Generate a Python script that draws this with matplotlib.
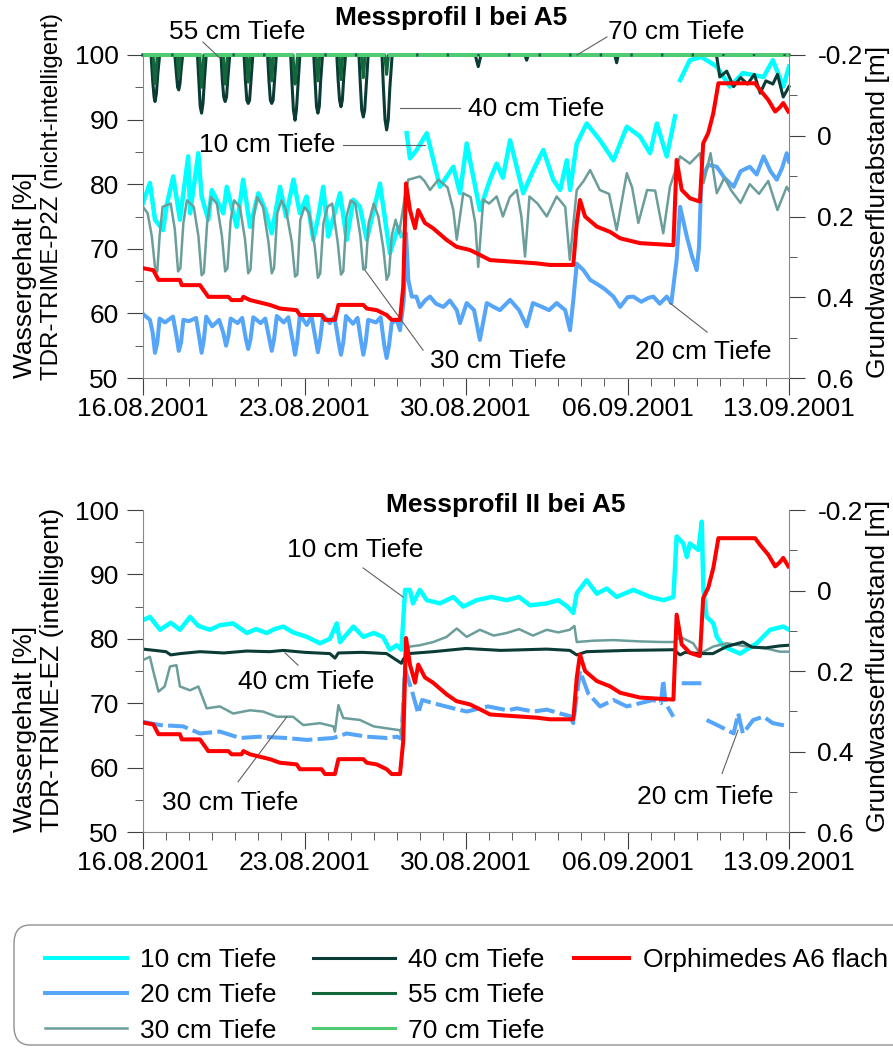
import numpy as np
import matplotlib
matplotlib.use('Agg')
import matplotlib.pyplot as plt
from matplotlib.lines import Line2D
from matplotlib.patches import FancyBboxPatch

plt.rcParams['font.family'] = ['Liberation Sans', 'DejaVu Sans']

nan = np.nan

# x axis: days since 16.08.2001
date_ticks = [0, 7, 14, 21, 28]
date_labels = ['16.08.2001', '23.08.2001', '30.08.2001', '06.09.2001', '13.09.2001']

# ---- Messprofil I (TDR-TRIME-P2Z), water content [%] as (day, value)
top_10cm = [(0, 77.1), (0.3, 80.2), (0.52, 74.5), (0.87, 72.9), (1.03, 76.8), (1.31, 81.2), (1.6, 74.5),
            (1.96, 84.3), (2.04, 75.5), (2.4, 84.8), (2.54, 78.1), (2.83, 74.5), (2.98, 79.1), (3.48, 75.5),
            (3.63, 79.6), (4.06, 73.4), (4.34, 80.7), (4.64, 73.4), (5.0, 78.6), (5.3, 76.0), (5.58, 72.4),
            (5.94, 79.6), (6.2, 75.0), (6.52, 80.7), (6.8, 75.5), (7.09, 78.1), (7.38, 71.4), (7.6, 75.0),
            (7.81, 79.6), (8.03, 71.9), (8.54, 78.6), (8.83, 71.4), (9.12, 77.6), (9.4, 76.5), (9.7, 71.4),
            (10.0, 76.0), (10.27, 80.1), (10.7, 69.3), (11.07, 73.4), (11.2, 72.0), (11.3, nan),
            (11.43, 87.9), (11.57, 84.0), (11.86, 85.3), (12.3, 87.9), (12.87, 79.6), (13.45, 82.7),
            (13.74, 78.6), (14.03, 86.3), (14.6, 76.0), (15.04, 80.7), (15.33, 83.2), (15.6, 81.0),
            (15.91, 86.8), (16.48, 78.6), (16.92, 82.2), (17.35, 85.3), (17.78, 80.7), (18.08, 79.1),
            (18.37, 83.7), (18.51, 79.1), (18.8, 86.3), (19.23, 89.4), (19.81, 86.8), (20.39, 83.7),
            (20.97, 88.9), (21.54, 87.4), (21.98, 84.8), (22.27, 89.4), (22.7, 84.3), (23.06, 90.5),
            (23.15, nan), (23.28, 96.1), (23.7, 99.2), (24.2, 99.7), (24.87, 98.2), (25.44, 95.1),
            (26.0, 97.2), (26.9, 96.6), (27.3, 99.2), (27.75, 95.1), (28.0, 98.2)]

top_20cm = [(0, 59.9), (0.3, 59.0), (0.42, 57.0), (0.52, 53.9), (0.62, 55.5), (0.72, 59.2), (0.95, 58.6),
            (1.3, 59.5), (1.45, 56.5), (1.55, 54.2), (1.65, 55.5), (1.75, 59.0), (2.0, 58.8),
            (2.3, 59.3), (2.45, 56.0), (2.54, 53.9), (2.64, 56.0), (2.74, 59.5), (3.0, 58.0),
            (3.3, 59.0), (3.48, 57.0), (3.6, 55.0), (3.7, 56.5), (3.8, 59.2), (4.1, 58.5),
            (4.3, 59.3), (4.46, 56.0), (4.56, 54.5), (4.66, 56.0), (4.78, 59.4), (5.1, 58.5),
            (5.3, 59.2), (5.48, 56.0), (5.58, 54.2), (5.68, 56.0), (5.8, 59.6), (6.1, 58.6),
            (6.3, 59.4), (6.5, 55.5), (6.59, 53.6), (6.68, 55.5), (6.8, 59.8), (7.1, 58.2),
            (7.3, 59.6), (7.48, 56.0), (7.58, 54.0), (7.68, 56.0), (7.8, 59.7), (8.1, 58.5),
            (8.3, 59.5), (8.48, 55.5), (8.58, 53.6), (8.68, 55.5), (8.8, 59.6), (9.1, 58.4),
            (9.3, 59.3), (9.46, 55.5), (9.55, 53.6), (9.65, 55.5), (9.76, 59.0), (10.1, 58.6),
            (10.3, 59.4), (10.46, 55.0), (10.56, 53.1), (10.66, 55.0), (10.78, 58.5), (11.0, 59.0),
            (11.14, 57.4), (11.3, 62.0), (11.4, 72.4), (11.5, 65.2), (11.65, 62.6), (11.85, 62.6),
            (12.0, 61.0), (12.25, 62.1), (12.44, 62.6), (12.7, 61.5), (13.02, 61.0), (13.3, 62.0),
            (13.6, 60.5), (13.74, 58.5), (14.03, 61.6), (14.35, 60.5), (14.6, 55.9), (14.9, 61.6),
            (15.2, 61.0), (15.47, 60.5), (15.91, 62.1), (16.3, 60.5), (16.63, 58.0), (16.9, 61.6),
            (17.3, 61.0), (17.6, 60.5), (17.93, 61.6), (18.3, 60.5), (18.51, 57.4), (18.65, 62.0),
            (18.8, 67.7), (19.09, 66.7), (19.38, 65.2), (19.7, 64.5), (20.0, 63.8), (20.39, 62.6),
            (20.68, 61.0), (21.0, 62.5), (21.25, 62.6), (21.6, 61.8), (21.9, 62.4), (22.12, 62.6),
            (22.4, 61.5), (22.7, 62.6), (22.9, 61.6), (23.13, 68.3), (23.28, 76.5), (23.57, 71.9),
            (23.8, 68.8), (24.0, 66.7), (24.1, 70.3), (24.2, 80.7), (24.5, 83.0), (24.87, 82.7),
            (25.2, 81.0), (25.6, 79.6), (25.9, 82.0), (26.3, 82.7), (26.6, 81.5), (26.9, 84.3),
            (27.2, 82.0), (27.47, 80.7), (27.7, 82.5), (27.9, 84.8), (28.0, 83.5)]

top_30cm = [(0, 76.5), (0.2, 75.5), (0.38, 72.0), (0.52, 67.2), (0.62, 66.5), (0.72, 72.0), (0.85, 76.5),
            (1.2, 77.0), (1.38, 73.0), (1.52, 66.5), (1.62, 67.0), (1.75, 74.0), (1.9, 77.5),
            (2.2, 76.5), (2.4, 72.0), (2.54, 65.9), (2.64, 66.3), (2.78, 74.0), (2.95, 78.0),
            (3.2, 77.0), (3.42, 72.0), (3.56, 66.5), (3.66, 67.0), (3.8, 74.5), (3.95, 77.5),
            (4.2, 76.5), (4.42, 71.5), (4.56, 66.2), (4.66, 66.8), (4.8, 75.0), (4.95, 78.0),
            (5.2, 76.5), (5.44, 71.0), (5.58, 66.2), (5.68, 67.0), (5.82, 75.5), (6.0, 77.5),
            (6.2, 76.0), (6.45, 71.0), (6.59, 65.7), (6.69, 66.0), (6.82, 74.5), (7.0, 76.5),
            (7.2, 75.5), (7.44, 70.5), (7.58, 65.5), (7.68, 66.2), (7.82, 74.0), (8.0, 76.5),
            (8.2, 77.0), (8.44, 71.0), (8.58, 66.0), (8.68, 66.5), (8.82, 75.0), (9.0, 77.5),
            (9.2, 77.0), (9.42, 72.0), (9.55, 66.8), (9.65, 67.0), (9.78, 74.0), (10.0, 77.0),
            (10.2, 75.0), (10.42, 70.0), (10.56, 65.2), (10.66, 66.0), (10.78, 72.0), (10.95, 74.5),
            (11.1, 72.4), (11.35, 78.0), (11.5, 80.7), (11.8, 81.0), (12.0, 81.2), (12.2, 80.5),
            (12.44, 79.1), (12.8, 80.7), (13.2, 79.5), (13.45, 76.0), (13.6, 71.4), (13.88, 78.6),
            (14.2, 78.0), (14.4, 74.0), (14.53, 67.2), (14.75, 77.6), (15.0, 77.0), (15.33, 78.1),
            (15.6, 75.0), (15.9, 78.0), (16.2, 79.1), (16.4, 75.0), (16.56, 68.8), (16.75, 78.1),
            (17.1, 77.0), (17.5, 75.0), (17.93, 78.1), (18.3, 76.5), (18.5, 68.3), (18.8, 79.1),
            (19.1, 80.5), (19.38, 82.2), (19.8, 79.1), (20.2, 78.5), (20.53, 72.9), (20.97, 81.7),
            (21.2, 79.5), (21.47, 74.0), (21.85, 79.1), (22.2, 79.0), (22.55, 72.4), (22.84, 79.6),
            (23.28, 84.3), (23.7, 83.2), (24.14, 84.8), (24.3, 80.2), (24.6, 84.8), (24.87, 78.6),
            (25.2, 81.0), (25.5, 79.0), (25.9, 77.1), (26.3, 80.0), (26.7, 78.5), (27.1, 80.5),
            (27.5, 76.0), (27.9, 79.6), (28.0, 79.0)]

top_40cm = [(0, 100), (0.35, 100), (0.42, 96), (0.48, 93.5), (0.52, 92.8), (0.58, 94), (0.64, 97), (0.72, 100),
            (1.38, 100), (1.45, 97), (1.5, 95), (1.55, 94.6), (1.6, 95.5), (1.66, 98), (1.72, 100),
            (2.36, 100), (2.42, 96), (2.48, 92), (2.54, 91.0), (2.6, 92.5), (2.66, 96), (2.74, 100),
            (3.38, 100), (3.44, 96), (3.5, 93.5), (3.56, 92.8), (3.62, 93.5), (3.68, 96.5), (3.76, 100),
            (4.38, 100), (4.44, 96), (4.5, 93), (4.56, 92.5), (4.62, 93), (4.68, 96), (4.76, 100),
            (5.4, 100), (5.46, 96), (5.52, 93), (5.58, 92.5), (5.64, 93), (5.7, 96), (5.78, 100),
            (6.4, 100), (6.46, 95.5), (6.52, 91.5), (6.59, 89.9), (6.65, 91.5), (6.72, 95.5), (6.8, 100),
            (7.4, 100), (7.46, 96), (7.52, 92), (7.58, 91.0), (7.64, 92), (7.7, 96), (7.78, 100),
            (8.4, 100), (8.46, 96), (8.52, 93), (8.58, 92.0), (8.64, 93), (8.7, 96.5), (8.78, 100),
            (9.36, 100), (9.42, 95.5), (9.48, 91.5), (9.55, 90.4), (9.61, 91.5), (9.68, 95.5), (9.76, 100),
            (10.36, 100), (10.42, 95), (10.49, 90), (10.56, 88.4), (10.63, 90), (10.7, 95), (10.8, 100),
            (14.4, 100), (14.53, 98.2), (14.65, 100), (16.55, 100), (16.63, 99.2), (16.7, 100),
            (20.45, 100), (20.53, 98.8), (20.6, 100), (24.8, 100), (24.87, 99.7), (25.0, 96.6),
            (25.3, 97.5), (25.6, 95.1), (25.9, 96.5), (26.2, 95.5), (26.5, 97.0), (26.75, 94.1),
            (27.0, 96.0), (27.3, 95.5), (27.5, 97.0), (27.75, 93.5), (28.0, 95.1)]

top_55cm = [(0, 100), (0.44, 100), (0.48, 97), (0.52, 95.6), (0.56, 97), (0.62, 100),
            (1.48, 100), (1.55, 96.5), (1.62, 100),
            (2.46, 100), (2.5, 97), (2.54, 95.0), (2.58, 97), (2.64, 100),
            (3.48, 100), (3.52, 97), (3.56, 95.5), (3.6, 97), (3.66, 100),
            (4.48, 100), (4.56, 95.8), (4.64, 100),
            (5.5, 100), (5.58, 96.0), (5.66, 100),
            (6.5, 100), (6.55, 97), (6.59, 95.5), (6.63, 97), (6.7, 100),
            (7.5, 100), (7.58, 96.0), (7.66, 100),
            (8.5, 100), (8.58, 96.2), (8.66, 100),
            (9.47, 100), (9.55, 96.5), (9.63, 100),
            (10.48, 100), (10.56, 97.0), (10.64, 100), (28, 100)]

top_70cm = [(0, 100), (7, 100), (14, 100), (21, 100), (28, 100)]

# ---- Messprofil II (TDR-TRIME-EZ)
bot_10cm = [(0, 82.9), (0.3, 83.4), (0.74, 81.4), (1.2, 82.5), (1.6, 81.4), (2.04, 83.4), (2.4, 82.0),
            (2.9, 81.4), (3.33, 82.1), (3.9, 82.4), (4.5, 80.9), (4.9, 81.5), (5.36, 80.9), (5.7, 81.5),
            (6.08, 81.9), (6.5, 81.0), (7.1, 80.3), (7.67, 79.3), (8.1, 80.0), (8.4, 82.4), (8.54, 79.5),
            (9.12, 81.9), (9.55, 80.3), (10.0, 80.9), (10.4, 80.3), (10.7, 78.3), (11.0, 79.0), (11.2, 78.3),
            (11.36, 87.6), (11.57, 87.6), (11.7, 85.5), (12.0, 87.6), (12.3, 86.0), (12.87, 85.5),
            (13.45, 86.5), (13.88, 85.0), (14.46, 86.0), (15.1, 86.5), (15.76, 86.0), (16.3, 86.5),
            (16.77, 85.2), (17.5, 85.5), (18.0, 86.0), (18.4, 85.0), (18.65, 84.0), (18.8, 87.1),
            (19.23, 89.1), (19.67, 87.0), (20.1, 87.8), (20.53, 86.5), (21.25, 87.6), (21.98, 86.5),
            (22.55, 86.0), (22.99, 86.5), (23.13, 95.9), (23.42, 94.8), (23.57, 92.7), (23.7, 94.8),
            (24.07, 93.8), (24.22, 98.2), (24.29, 87.6), (24.43, 83.4), (24.72, 82.4), (24.87, 80.3),
            (25.16, 78.8), (25.88, 77.7), (26.6, 79.3), (27.18, 81.4), (27.75, 81.9), (28.0, 81.4)]

bot_20cm = [(0, 67.1), (0.74, 66.6), (1.74, 66.4), (2.47, 65.3), (3.33, 65.6), (4.2, 64.6), (5.07, 64.8),
            (6.2, 64.6), (7.1, 64.3), (8.25, 64.6), (8.83, 65.3), (9.7, 64.8), (10.56, 64.6), (11.0, 64.8),
            (11.2, 64.5), (11.36, 75.2), (11.65, 72.0), (11.93, 68.4), (12.1, 70.5), (12.58, 70.0),
            (13.45, 69.2), (14.03, 68.7), (14.95, 69.5), (15.8, 68.9), (16.2, 69.2), (16.92, 68.7),
            (17.5, 69.0), (18.08, 68.4), (18.5, 68.0), (18.65, 66.9), (18.94, 75.0), (19.3, 71.5),
            (19.81, 69.5), (20.39, 70.5), (20.97, 69.5), (21.54, 70.0), (22.12, 70.5), (22.45, 70.0),
            (22.55, 73.6), (22.65, 70.0), (22.99, 67.9), (23.2, nan), (23.35, 73.1), (24.2, 73.1),
            (24.3, nan), (24.43, 67.4), (25.0, 66.4), (25.6, 65.3), (25.8, 68.4), (26.0, 65.3),
            (26.45, 67.4), (26.9, 67.9), (27.3, 66.9), (28.0, 66.4)]

bot_30cm = [(0, 76.7), (0.3, 77.2), (0.43, 75.2), (0.67, 71.8), (0.94, 72.6), (1.17, 75.7), (1.45, 75.9),
            (1.6, 72.6), (2.04, 72.0), (2.4, 72.6), (2.76, 69.2), (3.33, 69.5), (3.91, 68.4), (4.64, 68.9),
            (5.2, 68.7), (5.8, 67.9), (6.5, 67.9), (6.95, 66.6), (7.67, 66.9), (8.25, 66.4), (8.32, 65.6),
            (8.47, 69.7), (8.68, 67.7), (9.4, 67.4), (10.0, 66.4), (10.56, 66.1), (11.14, 65.8),
            (11.2, 65.1), (11.36, 78.0), (11.57, 78.8), (12.0, 79.0), (12.58, 79.5), (13.16, 80.3),
            (13.6, 81.6), (14.03, 80.3), (14.6, 81.4), (15.2, 80.5), (15.76, 80.9), (16.3, 81.5),
            (16.9, 80.5), (17.5, 81.4), (18.0, 81.0), (18.5, 81.4), (18.7, 82.0), (18.8, 79.5),
            (19.5, 79.7), (20.39, 79.8), (21.5, 79.6), (22.5, 79.5), (23.0, 79.5), (23.28, 80.3),
            (23.85, 79.3), (24.14, 77.7), (24.72, 78.8), (25.3, 79.3), (26.2, 78.8), (27.0, 78.5),
            (27.6, 78.0), (28.0, 78.0)]

bot_40cm = [(0, 78.4), (0.5, 78.2), (1.0, 78.0), (1.2, 77.5), (1.6, 77.7), (2.47, 78.0), (3.5, 77.8),
            (4.5, 78.1), (5.5, 78.0), (6.08, 78.2), (7.0, 77.9), (8.1, 77.7), (8.32, 77.0), (8.47, 77.8),
            (9.5, 77.9), (10.56, 77.7), (11.2, 76.2), (11.28, 76.8), (11.5, 77.7), (12.58, 78.0),
            (14.0, 78.5), (15.5, 78.2), (17.5, 78.4), (18.5, 78.2), (18.8, 77.5), (19.23, 78.0),
            (21.0, 78.2), (23.0, 78.3), (23.28, 77.5), (23.5, 77.9), (24.14, 77.7), (24.7, 77.7),
            (25.3, 78.8), (26.0, 79.5), (26.4, 78.7), (27.0, 78.6), (27.6, 78.9), (28.0, 79.0)]

# ---- Orphimedes A6 flach, Grundwasserflurabstand [m] (same in both panels)
gw_depth = [(0, 0.328), (0.45, 0.333), (0.67, 0.357), (1.6, 0.357), (1.68, 0.370), (2.47, 0.370),
            (2.83, 0.399), (3.7, 0.399), (3.84, 0.407), (4.27, 0.407), (4.35, 0.399), (4.64, 0.407),
            (5.5, 0.419), (5.94, 0.428), (6.66, 0.432), (6.8, 0.444), (7.74, 0.444), (7.89, 0.456),
            (8.32, 0.456), (8.47, 0.419), (9.55, 0.419), (9.7, 0.428), (10.13, 0.432), (10.56, 0.444),
            (10.78, 0.456), (11.14, 0.456), (11.28, 0.374), (11.4, 0.118), (11.57, 0.184), (11.79, 0.229),
            (11.93, 0.184), (12.22, 0.216), (12.57, 0.229), (13.16, 0.258), (13.59, 0.275), (14.17, 0.283),
            (14.6, 0.295), (15.04, 0.308), (17.06, 0.316), (17.64, 0.32), (18.65, 0.32), (18.8, 0.217),
            (18.94, 0.159), (19.16, 0.2), (19.67, 0.225), (20.24, 0.238), (20.68, 0.254), (21.54, 0.266),
            (22.99, 0.271), (23.13, 0.06), (23.35, 0.134), (23.71, 0.155), (24.14, 0.163), (24.28, 0.019),
            (24.5, -0.007), (24.72, -0.056), (24.94, -0.13), (26.53, -0.13), (26.75, -0.113),
            (27.1, -0.089), (27.4, -0.06), (27.6, -0.07), (27.75, -0.081), (27.97, -0.06)]

c10, c20, c30 = '#00FFFF', '#55A5F8', '#6B9E9B'
c40, c55, c70 = '#0A3B35', '#12683A', '#4FCB72'
cgw = '#FF0000'
spine_c, tick_c = '#8a8a8a', '#404040'
FS = 19


def xy(series):
    a = np.array(series, dtype=float)
    return a[:, 0], a[:, 1]


def setup(ax, axr, title, title_x, title_y):
    ax.set_xlim(0, 28)
    ax.set_ylim(50, 100)
    axr.set_ylim(0.6, -0.2)
    for s in ['top', 'right']:
        ax.spines[s].set_visible(False)
    for s in ['top', 'left', 'bottom']:
        axr.spines[s].set_visible(False)
    for sp in [ax.spines['left'], ax.spines['bottom'], axr.spines['right']]:
        sp.set_color(spine_c)
    ax.set_xticks(date_ticks)
    ax.set_xticklabels(date_labels)
    ax.set_xticks(range(29), minor=True)
    ax.set_yticks([50, 60, 70, 80, 90, 100])
    ax.set_yticks([55, 65, 75, 85, 95], minor=True)
    axr.set_yticks([-0.2, 0, 0.2, 0.4, 0.6])
    axr.set_yticklabels(['-0.2', '0', '0.2', '0.4', '0.6'])
    axr.set_yticks([-0.1, 0.1, 0.3, 0.5], minor=True)
    ax.tick_params(axis='x', which='major', length=12, pad=2, labelsize=FS, color=tick_c)
    ax.tick_params(axis='x', which='minor', length=6, color=tick_c)
    ax.tick_params(axis='y', which='major', length=11.5, pad=6, labelsize=FS, color=tick_c)
    ax.tick_params(axis='y', which='minor', length=6, color=tick_c)
    axr.tick_params(axis='y', which='major', length=11.5, pad=9, labelsize=FS, color=tick_c)
    axr.tick_params(axis='y', which='minor', length=6, color=tick_c)
    ax.text(title_x, title_y, title, transform=ax.transAxes, ha='center', va='center',
            fontsize=FS, fontweight='bold')


def label(ax, text, line, tx, ty, ha='center'):
    # leader line plus text, all in data coordinates
    ax.plot(line[0], line[1], color='#606060', lw=0.8, clip_on=False)
    ax.text(tx, ty, text, ha=ha, va='center', fontsize=FS, clip_on=False)


fig = plt.figure(figsize=(8.93, 10.48), dpi=100)
ax1 = fig.add_axes([143 / 893, 1 - 378 / 1048, 646 / 893, 323 / 1048])
ax1r = ax1.twinx()
ax2 = fig.add_axes([143 / 893, 1 - 832 / 1048, 646 / 893, 322 / 1048])
ax2r = ax2.twinx()

# top panel
ax1.plot(*xy(top_10cm), color=c10, lw=3.2)
ax1.plot(*xy(top_20cm), color=c20, lw=2.9)
ax1.plot(*xy(top_30cm), color=c30, lw=1.8)
ax1.plot(*xy(top_40cm), color=c40, lw=2.2, clip_on=False)
ax1.plot(*xy(top_55cm), color=c55, lw=2.2, clip_on=False)
ax1.plot(*xy(top_70cm), color=c70, lw=2.9, dashes=(7, 0.6), clip_on=False)
ax1r.plot(*xy(gw_depth), color=cgw, lw=2.9)
setup(ax1, ax1r, 'Messprofil I bei A5', 0.477, 1.115)

label(ax1, '55 cm Tiefe', ([2.60, 3.34], [102.0, 99.5]), 4.07, 103.6)
label(ax1, '70 cm Tiefe', ([20.11, 18.81], [102.8, 100.0]), 23.1, 103.6)
label(ax1, '40 cm Tiefe', ([11.14, 13.74], [91.8, 91.8]), 14.09, 91.7, ha='left')
label(ax1, '10 cm Tiefe', ([8.67, 12.22], [86.1, 86.1]), 8.32, 86.1, ha='right')
label(ax1, '30 cm Tiefe', ([9.62, 12.14], [66.7, 54.3]), 12.44, 52.6, ha='left')
label(ax1, '20 cm Tiefe', ([22.84, 24.45], [61.6, 57.1]), 24.27, 54.0)

# bottom panel
ax2.plot(*xy(bot_10cm), color=c10, lw=3.2)
ax2.plot(*xy(bot_20cm), color=c20, lw=2.9, dashes=(5, 1.3))
ax2.plot(*xy(bot_30cm), color=c30, lw=1.8)
ax2.plot(*xy(bot_40cm), color=c40, lw=2.2)
ax2r.plot(*xy(gw_depth), color=cgw, lw=2.9)
setup(ax2, ax2r, 'Messprofil II bei A5', 0.562, 1.016)

label(ax2, '10 cm Tiefe', ([9.54, 11.27], [91.0, 86.5]), 9.19, 93.8)
label(ax2, '40 cm Tiefe', ([6.16, 6.72], [77.8, 75.9]), 7.07, 73.3)
label(ax2, '30 cm Tiefe', ([4.12, 6.24], [57.8, 67.9]), 3.77, 54.5)
label(ax2, '20 cm Tiefe', ([25.1, 25.79], [59.1, 65.8]), 24.36, 55.4)

# axis labels
for y_bot in [378, 832]:
    yb = 1 - y_bot / 1048
    fig.text(25 / 893, yb, 'Wassergehalt [%]', rotation=90, rotation_mode='anchor',
             ha='left', va='center', fontsize=FS)
    fig.text(878 / 893, yb, 'Grundwasserflurabstand [m]', rotation=90, rotation_mode='anchor',
             ha='left', va='center', fontsize=FS)
fig.text(52 / 893, 1 - 380 / 1048, 'TDR-TRIME-P2Z (nicht-intelligent)', rotation=90,
         rotation_mode='anchor', ha='left', va='center', fontsize=17.3)
fig.text(52 / 893, 1 - 832 / 1048, 'TDR-TRIME-EZ (intelligent)', rotation=90,
         rotation_mode='anchor', ha='left', va='center', fontsize=FS)

# legend box
frame = FancyBboxPatch((14 / 893, 1 - 1045 / 1048), 900 / 893, 120 / 1048,
                       boxstyle='round,pad=0,rounding_size=0.018', transform=fig.transFigure,
                       facecolor='white', edgecolor='#909090', lw=1)
fig.add_artist(frame)
handles = [Line2D([], [], color=c10, lw=2.9), Line2D([], [], color=c20, lw=2.9),
           Line2D([], [], color=c30, lw=1.8), Line2D([], [], color=c40, lw=2.2),
           Line2D([], [], color=c55, lw=2.2), Line2D([], [], color=c70, lw=2.2)]
labels = ['10 cm Tiefe', '20 cm Tiefe', '30 cm Tiefe', '40 cm Tiefe', '55 cm Tiefe', '70 cm Tiefe']
leg_y = 1 - 948 / 1048
fig.legend(handles, labels, ncol=2, loc='upper left', bbox_to_anchor=(45 / 893, leg_y),
           frameon=False, fontsize=FS, handlelength=3.1, handletextpad=0.5, columnspacing=1.4,
           labelspacing=0.43, borderpad=0, borderaxespad=0)
fig.legend([Line2D([], [], color=cgw, lw=2.9)], ['Orphimedes A6 flach'], loc='upper left',
           bbox_to_anchor=(574 / 893, leg_y), frameon=False, fontsize=FS, handlelength=2.1,
           handletextpad=0.5, borderpad=0, borderaxespad=0)

fig.savefig('out.png', dpi=100)
